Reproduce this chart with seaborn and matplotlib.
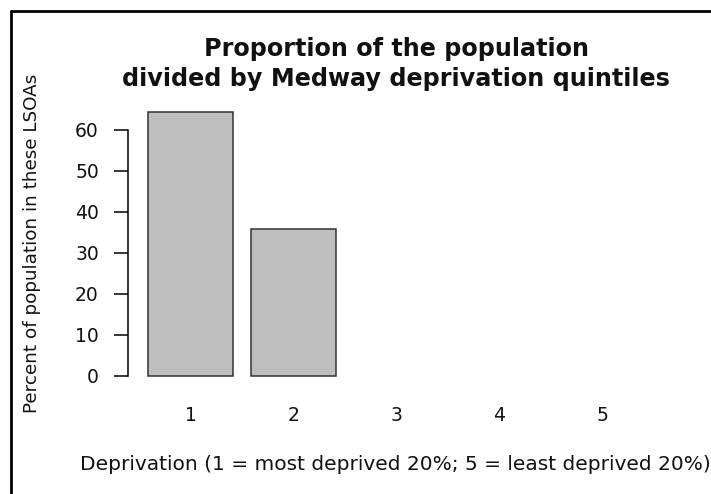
import matplotlib
matplotlib.use("Agg")
import matplotlib.pyplot as plt
from matplotlib.lines import Line2D
import pandas as pd
import seaborn as sns

# ── Data ────────────────────────────────────────────────────────────────────
quintiles = ["1", "2", "3", "4", "5"]
percent = [64.2, 35.8, 0, 0, 0]

title = "Proportion of the population\ndivided by Medway deprivation quintiles"
xlabel = "Deprivation (1 = most deprived 20%; 5 = least deprived 20%)"
ylabel = "Percent of population in these LSOAs"
yticks = [0, 10, 20, 30, 40, 50, 60]

# ── Style ───────────────────────────────────────────────────────────────────
sns.set_theme(style="white")
plt.rcParams["font.family"] = ["DejaVu Sans"]

W, H = 711, 494
fig = plt.figure(figsize=(W / 100, H / 100), dpi=100)

# axes placed in pixel terms (R base-graphics look)
left, right, top, bottom = 128, 664, 105, 380
ax = fig.add_axes([left / W, 1 - bottom / H, (right - left) / W, (bottom - top) / H])

df = pd.DataFrame({"quintile": quintiles, "percent": percent})
df = df[df["percent"] > 0]

sns.barplot(
    data=df, x="quintile", y="percent", order=quintiles, ax=ax,
    color="#bebebe", saturation=1, width=0.833,
    edgecolor="#333333", linewidth=1.1,
)

ax.set_xlim(-0.607, 4.6)
ax.set_ylim(-1, 66)
ax.set_yticks(yticks)
ax.set_yticklabels([str(t) for t in yticks], fontsize=13.5, color="#111111")
ax.tick_params(axis="y", length=10, width=1.1, color="black", pad=11, left=True)
ax.tick_params(axis="x", length=0, pad=19, labelsize=13.5, labelcolor="#111111")

for s in ["top", "right", "bottom"]:
    ax.spines[s].set_visible(False)
ax.spines["left"].set_bounds(0, 60)
ax.spines["left"].set_color("black")
ax.spines["left"].set_linewidth(1.1)
ax.set_xlabel("")
ax.set_ylabel("")

# texts
fig.text(396 / W, 1 - 64 / H, title, ha="center", va="center",
         fontsize=17.2, fontweight="bold", linespacing=1.3, color="#111111")
fig.text(395 / W, 1 - 465 / H, xlabel, ha="center", va="center",
         fontsize=14.5, color="#111111")
fig.text(32 / W, 1 - 243 / H, ylabel, ha="center", va="center",
         fontsize=13.2, rotation=90, color="#111111")

# frame (only top and left edges are visible in the crop)
fig.add_artist(Line2D([11 / W, 11 / W], [0, 1 - 11 / H], transform=fig.transFigure,
                      color="black", linewidth=2))
fig.add_artist(Line2D([11 / W, 1], [1 - 11 / H, 1 - 11 / H], transform=fig.transFigure,
                      color="black", linewidth=2))

fig.savefig("out.png", dpi=100)
